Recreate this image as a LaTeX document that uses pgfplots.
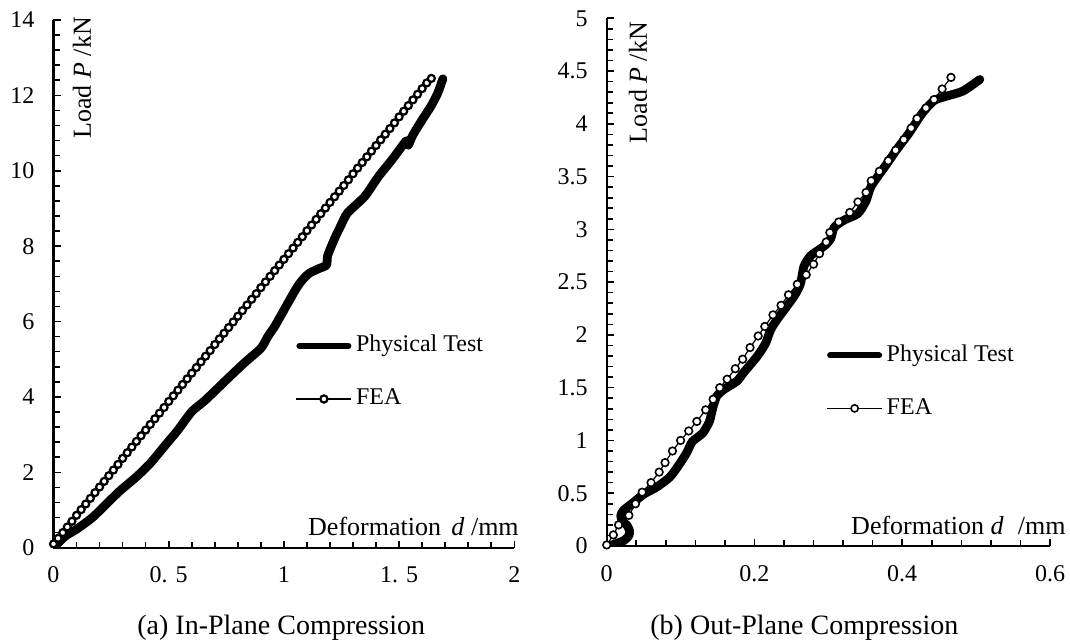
\documentclass[border=0pt]{standalone}
\usepackage{fontspec}
\setmainfont{Liberation Serif}
\usepackage{pgfplots}
\pgfplotsset{compat=1.18}

\pgfplotstableread{
d P
0 0
0.05 0.30
0.105 0.51
0.165 0.78
0.21 1.04
0.285 1.49
0.36 1.88
0.42 2.24
0.48 2.68
0.54 3.12
0.60 3.61
0.66 3.92
0.75 4.45
0.826 4.89
0.90 5.29
0.93 5.60
0.96 5.87
0.976 6.04
1.05 6.84
1.08 7.10
1.11 7.28
1.15 7.40
1.185 7.50
1.19 7.75
1.22 8.20
1.246 8.53
1.276 8.88
1.351 9.32
1.411 9.85
1.47 10.30
1.532 10.80
1.54 10.68
1.56 10.95
1.60 11.35
1.637 11.70
1.667 12.05
1.69 12.44
}\physA

\pgfplotstableread{
d P
0.00 0.10
0.02 0.25
0.04 0.40
0.06 0.55
0.08 0.70
0.10 0.86
0.12 1.01
0.14 1.16
0.16 1.31
0.18 1.46
0.20 1.61
0.22 1.76
0.24 1.91
0.26 2.06
0.28 2.21
0.30 2.37
0.32 2.52
0.34 2.67
0.36 2.82
0.38 2.97
0.40 3.12
0.42 3.27
0.44 3.42
0.46 3.57
0.48 3.72
0.50 3.88
0.52 4.03
0.54 4.18
0.56 4.33
0.58 4.48
0.60 4.63
0.62 4.78
0.64 4.93
0.66 5.08
0.68 5.23
0.70 5.39
0.72 5.54
0.74 5.69
0.76 5.84
0.78 5.99
0.80 6.14
0.82 6.29
0.84 6.44
0.86 6.59
0.88 6.74
0.90 6.90
0.92 7.05
0.94 7.20
0.96 7.35
0.98 7.50
1.00 7.65
1.02 7.80
1.04 7.95
1.06 8.10
1.08 8.25
1.10 8.41
1.12 8.56
1.14 8.71
1.16 8.86
1.18 9.01
1.20 9.16
1.22 9.31
1.24 9.46
1.26 9.61
1.28 9.76
1.30 9.92
1.32 10.07
1.34 10.22
1.36 10.37
1.38 10.52
1.40 10.67
1.42 10.82
1.44 10.97
1.46 11.12
1.48 11.27
1.50 11.43
1.52 11.58
1.54 11.73
1.56 11.88
1.58 12.03
1.60 12.18
1.62 12.33
1.64 12.45
}\feaA

\pgfplotstableread{
d P
0.003 0.00
0.023 0.05
0.030 0.10
0.031 0.14
0.028 0.19
0.021 0.24
0.019 0.29
0.023 0.34
0.034 0.40
0.050 0.49
0.068 0.56
0.085 0.65
0.096 0.75
0.108 0.88
0.116 0.99
0.130 1.07
0.139 1.18
0.144 1.32
0.149 1.42
0.158 1.48
0.176 1.56
0.185 1.64
0.204 1.80
0.215 1.92
0.222 2.05
0.231 2.15
0.253 2.36
0.262 2.48
0.267 2.65
0.276 2.75
0.294 2.84
0.303 2.91
0.308 3.02
0.322 3.09
0.340 3.15
0.351 3.27
0.358 3.41
0.377 3.60
0.395 3.78
0.409 3.91
0.427 4.10
0.443 4.22
0.459 4.26
0.482 4.31
0.505 4.42
}\physB

\pgfplotstableread{
d P
0.000 0.01
0.009 0.105
0.016 0.20
0.030 0.29
0.039 0.40
0.048 0.51
0.060 0.60
0.071 0.70
0.079 0.79
0.089 0.90
0.100 1.00
0.111 1.09
0.122 1.18
0.134 1.29
0.144 1.39
0.153 1.50
0.163 1.58
0.174 1.68
0.184 1.77
0.194 1.88
0.205 1.99
0.214 2.08
0.225 2.19
0.236 2.28
0.246 2.38
0.258 2.48
0.270 2.57
0.280 2.67
0.288 2.77
0.297 2.88
0.302 2.97
0.314 3.07
0.329 3.16
0.340 3.26
0.351 3.35
0.358 3.46
0.369 3.55
0.381 3.65
0.391 3.75
0.402 3.85
0.412 3.96
0.420 4.05
0.432 4.15
0.443 4.23
0.454 4.33
0.466 4.44
}\feaB

\pgfplotsset{
  mychart/.style={
    scale only axis,
    anchor=south west,
    clip mode=individual,
    axis x line=bottom,
    axis y line=left,
    axis line style={-, line width=1pt},
    tick style={line width=0.8pt, black},
    major tick length=3.5pt,
    minor tick length=3pt,
    tick align=inside,
    /pgf/number format/assume math mode=true,
    tick label style={font=\fontsize{12}{14}\selectfont},
    yticklabel style={xshift=-6pt},
    xticklabel style={yshift=-6pt},
    legend cell align=left,
    legend style={draw=none, fill=none, inner sep=0pt,
      font=\fontsize{12}{14}\selectfont, row sep=11.5pt,
      nodes={inner sep=2pt, text height=8.5pt, text depth=2.5pt}},
  },
  phys/.style={black, line width=4.4pt, line join=round, line cap=round, smooth, tension=0.4,
    legend image code/.code={\draw[black, line width=3pt, line cap=round] (1.5pt,0pt) -- (26pt,0pt);}},
}

\begin{document}
\begin{tikzpicture}
\useasboundingbox (0,0) rectangle (535pt,320pt);

\begin{axis}[mychart,
  at={(26.75pt,46.15pt)}, width=230.4pt, height=263.85pt,
  xmin=0, xmax=2, ymin=0, ymax=14,
  xtick={0,0.5,1,1.5,2}, xticklabels={0,0. 5,1,1. 5,2},
  ytick={0,2,...,14},
  minor x tick num=4, minor y tick num=4,
  legend style={at={(0.525,0.332)}, anchor=west},
]
\addplot[phys] table[x=d,y=P] {\physA};
\addlegendentry{Physical Test}
\addplot[black, line width=0.6pt, mark=*, mark size=1.75pt,
  mark options={fill=white, draw=black, line width=1.1pt},
  legend image code/.code={\draw[black, line width=0.6pt] (0pt,0pt) -- (27.5pt,0pt);
    \draw[black, line width=0.8pt, fill=white] plot[mark=*, mark size=1.8pt] coordinates {(13.75pt,0pt)};}]
  table[x=d,y=P] {\feaA};
\addlegendentry{FEA}
\node[anchor=base east, inner sep=0pt, font=\fontsize{13}{15}\selectfont]
  at ([xshift=2.4pt,yshift=6.3pt]rel axis cs:1,0) {Deformation\hspace{0.4em}\textit{d} /mm};
\node[rotate=90, anchor=east, inner sep=0pt, font=\fontsize{13}{15}\selectfont]
  at ([xshift=14.2pt,yshift=1.6pt]rel axis cs:0,1) {Load \textit{P} /kN};
\end{axis}

\begin{axis}[mychart,
  at={(303.35pt,47pt)}, width=221.65pt, height=263.85pt,
  xmin=0, xmax=0.6, ymin=0, ymax=5,
  xtick={0,0.2,0.4,0.6},
  ytick={0,0.5,...,5},
  minor x tick num=4, minor y tick num=4,
  legend style={at={(0.495,0.311)}, anchor=west},
]
\addplot[phys] table[x=d,y=P] {\physB};
\addlegendentry{Physical Test}
\addplot[black, line width=0.6pt, mark=*, mark size=1.9pt,
  mark options={fill=white, draw=black, line width=0.8pt},
  legend image code/.code={\draw[black, line width=0.6pt] (0pt,0pt) -- (27.5pt,0pt);
    \draw[black, line width=0.8pt, fill=white] plot[mark=*, mark size=1.8pt] coordinates {(13.75pt,0pt)};}]
  table[x=d,y=P] {\feaB};
\addlegendentry{FEA}
\node[anchor=base east, inner sep=0pt, font=\fontsize{13}{15}\selectfont]
  at ([xshift=8pt,yshift=5.9pt]rel axis cs:1,0) {Deformation \textit{d}\hspace{0.55em}/mm};
\node[rotate=90, anchor=east, inner sep=0pt, font=\fontsize{13}{15}\selectfont]
  at ([xshift=15.6pt,yshift=-1.7pt]rel axis cs:0,1) {Load \textit{P} /kN};
\end{axis}

\node[anchor=base west, inner sep=0pt, font=\fontsize{14}{16}\selectfont] at (68.5pt,2.5pt) {(a) In-Plane Compression};
\node[anchor=base west, inner sep=0pt, font=\fontsize{14}{16}\selectfont] at (325pt,2.5pt) {(b) Out-Plane Compression};
\end{tikzpicture}
\end{document}
